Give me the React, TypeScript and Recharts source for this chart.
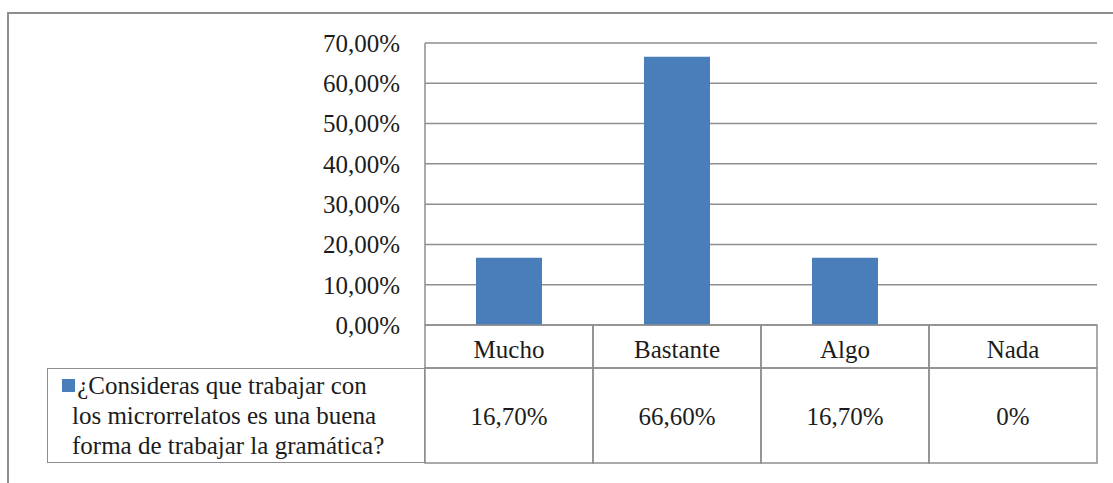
import React from "react";
import { BarChart, Bar, XAxis, YAxis, CartesianGrid, Legend } from "recharts";

const categories = ["Mucho", "Bastante", "Algo", "Nada"];
const shares = [0.167, 0.666, 0.167, 0];
const yTicks = [0, 0.1, 0.2, 0.3, 0.4, 0.5, 0.6, 0.7];
const seriesLines = [
  "¿Consideras que trabajar con",
  "los microrrelatos es una buena",
  "forma de trabajar la gramática?",
];

const FONT = "'Liberation Serif', 'Times New Roman', serif";
const INK = "#1c1c1c";
const GRID = "#8e8e8e";
const BLUE = "#4a7ebb";
const CELL_W = 168;
const HEAD_H = 43;
const ROW_H = 95;

const rows = categories.map((name, i) => ({ name, share: shares[i] }));

const pct = (v: number) => (v * 100).toFixed(2).replace(".", ",") + "%";
const cellText = (v: number) => (v === 0 ? "0%" : pct(v));

const pageCss = `html, body { margin: 0; overflow: hidden; }`;

// category header + value row of the data table, one column per tick
function TableTick(props: any) {
  const { x, y, payload } = props;
  const i = categories.indexOf(payload.value);
  const left = x - CELL_W / 2;
  return (
    <g>
      <rect x={left} y={y} width={CELL_W} height={HEAD_H} fill="none" stroke={GRID} strokeWidth={1.5} />
      <rect x={left} y={y + HEAD_H} width={CELL_W} height={ROW_H} fill="none" stroke={GRID} strokeWidth={1.5} />
      <text x={x} y={y + 33} textAnchor="middle" fontFamily={FONT} fontSize={25} fill={INK}>
        {payload.value}
      </text>
      <text x={x} y={y + HEAD_H + 57} textAnchor="middle" fontFamily={FONT} fontSize={25} fill={INK}>
        {cellText(shares[i])}
      </text>
    </g>
  );
}

// series cell at the left of the value row: swatch + question text
function SeriesCell(props: any) {
  const color = props.payload?.[0]?.color ?? BLUE;
  return (
    <div
      style={{
        position: "relative",
        width: 378,
        height: ROW_H,
        boxSizing: "border-box",
        border: `1.5px solid ${GRID}`,
        fontFamily: FONT,
        fontSize: 25,
        lineHeight: "30px",
        color: INK,
      }}
    >
      <div style={{ position: "absolute", left: 14, top: 10, width: 13, height: 13, background: color }} />
      <div style={{ position: "absolute", left: 24, top: 2, width: 300, textAlign: "center" }}>
        {seriesLines.map((l) => (
          <div key={l} style={{ whiteSpace: "nowrap" }}>{l}</div>
        ))}
      </div>
    </div>
  );
}

export default function App() {
  return (
    <div style={{ position: "relative", width: 1113, height: 483, overflow: "hidden", background: "#fff", fontFamily: FONT }}>
      <style>{pageCss}</style>
      <div
        style={{
          position: "absolute",
          left: 7,
          top: 12,
          width: 1200,
          height: 600,
          borderTop: `2px solid ${GRID}`,
          borderLeft: `2px solid ${GRID}`,
        }}
      />
      <div style={{ position: "absolute", left: 0, top: 0 }}>
        <BarChart
          width={1113}
          height={483}
          data={rows}
          margin={{ top: 43, right: 16, left: 0, bottom: 20 }}
          barCategoryGap={0}
        >
          <CartesianGrid vertical={false} stroke={GRID} strokeWidth={1.5} />
          <YAxis
            width={425}
            domain={[0, 0.7]}
            ticks={yTicks}
            interval={0}
            tickFormatter={pct}
            axisLine={{ stroke: GRID, strokeWidth: 1.5 }}
            tickLine={false}
            tickSize={0}
            tickMargin={25}
            tick={{ fill: INK, fontSize: 25, fontFamily: FONT }}
          />
          <XAxis
            dataKey="name"
            height={138}
            axisLine={false}
            tickLine={false}
            tickSize={0}
            tickMargin={0}
            interval={0}
            tick={<TableTick />}
          />
          <Legend
            layout="horizontal"
            align="center"
            verticalAlign="middle"
            content={<SeriesCell />}
            wrapperStyle={{ position: "absolute", left: 47, top: 368, width: 378, height: ROW_H }}
          />
          <Bar
            dataKey="share"
            name={seriesLines.join(" ")}
            fill={BLUE}
            barSize={66}
            isAnimationActive={false}
          />
        </BarChart>
      </div>
    </div>
  );
}
